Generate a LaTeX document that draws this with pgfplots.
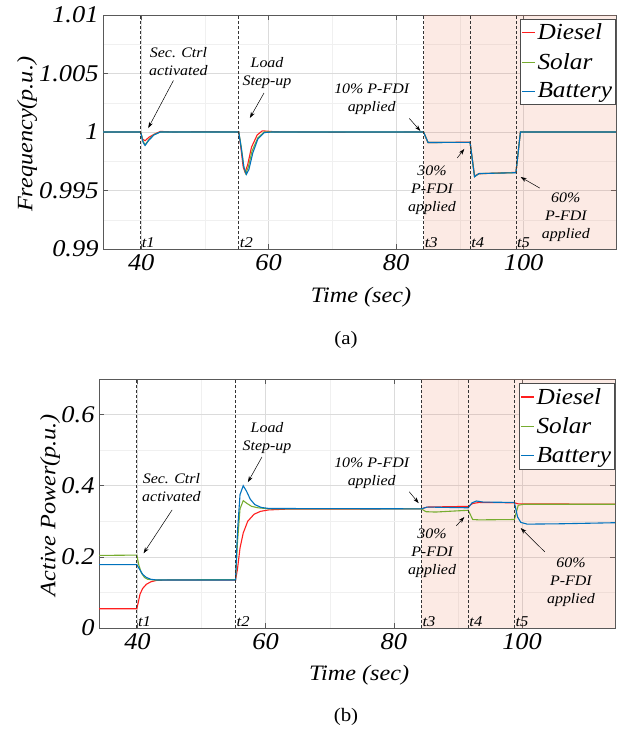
\documentclass[border=0pt]{standalone}
\usepackage{fontspec}
\setmainfont{Liberation Serif}[FakeStretch=1.1]
\usepackage{pgfplots}
\pgfplotsset{compat=1.18}
\usetikzlibrary{arrows.meta}
\definecolor{cDiesel}{RGB}{255,30,30}
\definecolor{cSolar}{RGB}{119,172,48}
\definecolor{cBattery}{RGB}{0,114,189}
\definecolor{cShadeBase}{RGB}{235,125,90}
\pgfplotsset{mystyle/.style={
  scale only axis,
  xmin=34, xmax=114.5,
  xtick={40,60,80,100}, xticklabels={40,60,80,100},
  minor x tick num=1,
  grid=both, major grid style={black!14, line width=0.5pt},
  minor grid style={black!6, line width=0.4pt},
  axis line style={black!65, line width=0.6pt},
  tick align=inside, major tick length=5pt, minor tick length=0pt,
  tick style={black!65, line width=0.6pt},
  /pgf/number format/assume math mode=true,
  xticklabel style={font=\fontsize{24}{26}\selectfont\itshape, yshift=-2pt},
  yticklabel style={font=\fontsize{24}{26}\selectfont\itshape, xshift=-1pt},
  label style={font=\fontsize{22}{26}\selectfont\itshape},
  legend style={anchor=north east, draw=black!70, fill=white,
    font=\fontsize{23}{27}\selectfont\itshape, inner xsep=1pt, inner ysep=3pt,
    outer sep=0pt, row sep=8pt, legend cell align=left},
  legend image code/.code={\draw[##1] (0pt,0pt) -- (13pt,0pt);},
}}
\tikzset{
  ann/.style={font=\fontsize{14.5}{18}\selectfont\itshape, align=center, inner sep=0pt},
  arr/.style={-{Stealth[length=6pt,width=4pt]}, black, line width=0.5pt},
  tl/.style={font=\fontsize{15}{18}\selectfont\itshape, anchor=south west, inner sep=1pt},
  vl/.style={black!80, line width=0.65pt, dash pattern=on 3pt off 2pt},
  dl/.style={line width=1.1pt},
}
\begin{document}
\begin{tikzpicture}
\useasboundingbox (0,0) rectangle (625pt,-730pt);
% ---------------- (a) frequency ----------------
\begin{axis}[mystyle, at={(103pt,-249pt)}, anchor=south west,
  width=513pt, height=234pt,
  ymin=0.99, ymax=1.01,
  ytick={0.99,0.995,1,1.005,1.01}, yticklabels={0.99,0.995,1,1.005,1.01},
  minor y tick num=1,
  xlabel={Time (sec)}, ylabel={Frequency(p.u.)},
  xlabel style={at={(axis description cs:0.503,-0.205)}, anchor=center},
  ylabel style={at={(axis description cs:-0.148,0.49)}, anchor=center},
  legend style={at={(rel axis cs:0.998,0.983)}},
]
\addplot[draw=none, fill=cShadeBase, fill opacity=0.16, forget plot] coordinates {(84.3,0.99) (84.3,1.01) (114.5,1.01) (114.5,0.99)} -- cycle;
\addplot[cDiesel, dl] coordinates {(34,1) (39.9,1) (40.2,0.9994) (40.6,0.99925) (41.2,0.99955) (42,0.9998) (43,1.00005) (45,1.0) (50,1.00003) (55.3,1.0) (55.6,0.9988) (56.0,0.9970) (56.3,0.99655) (56.7,0.9972) (57.3,0.9987) (58.2,0.99975) (59,1.0001) (61,1.00002) (70,0.99998) (84.3,1.0) (85.0,0.9991) (91.6,0.99913) (92.3,0.99625) (93,0.99643) (98.8,0.99655) (99.5,1.0) (114.5,1.0)};
\addlegendentry{Diesel}
\addplot[cSolar, dl] coordinates {(34,1) (39.9,1) (40.3,0.9992) (40.6,0.9989) (41.2,0.99935) (42,0.99977) (43,1.0) (55.3,1.0) (55.7,0.9987) (56.1,0.9970) (56.4,0.99645) (56.8,0.9970) (57.4,0.9984) (58.3,0.9995) (59.3,1.0) (84.3,1.0) (85.0,0.9991) (91.6,0.99912) (92.3,0.9962) (93,0.99644) (98.8,0.99653) (99.5,1.0) (114.5,1.0)};
\addlegendentry{Solar}
\addplot[cBattery, dl] coordinates {(34,1) (39.9,1) (40.3,0.9991) (40.6,0.99885) (41.2,0.9993) (42,0.99975) (43,1.0) (55.3,1.0) (55.7,0.9986) (56.1,0.9970) (56.5,0.99638) (56.9,0.9968) (57.5,0.9982) (58.3,0.9994) (59.3,0.99995) (60.5,1.0) (84.3,1.0) (85.0,0.9991) (91.6,0.99912) (92.3,0.99617) (93,0.99645) (98.8,0.99652) (99.5,1.0) (114.5,1.0)};
\addlegendentry{Battery}
\draw[vl] (axis cs:39.9,0.99) -- (axis cs:39.9,1.01);
\draw[vl] (axis cs:55.3,0.99) -- (axis cs:55.3,1.01);
\draw[vl] (axis cs:84.3,0.99) -- (axis cs:84.3,1.01);
\draw[vl] (axis cs:91.6,0.99) -- (axis cs:91.6,1.01);
\draw[vl] (axis cs:98.8,0.99) -- (axis cs:98.8,1.01);
\node[tl] at (axis cs:39.9,0.99) {t1};
\node[tl] at (axis cs:55.3,0.99) {t2};
\node[tl] at (axis cs:84.3,0.99) {t3};
\node[tl] at (axis cs:91.6,0.99) {t4};
\node[tl] at (axis cs:98.8,0.99) {t5};
\node[ann] at (axis cs:45.84,1.00598) {Sec. Ctrl\\activated};
\draw[arr] (axis cs:45.05,1.00440) -- (axis cs:41.1,1.00034);
\node[ann] at (axis cs:59.74,1.00504) {Load\\Step-up};
\draw[arr] (axis cs:59.26,1.00333) -- (axis cs:57.05,1.0012);
\node[ann] at (axis cs:76.16,1.00282) {10\% P-FDI\\applied};
\draw[arr] (axis cs:82.05,1.00117) -- (axis cs:83.8,1.00009);
\node[ann] at (axis cs:85.63,0.99504) {30\%\\P-FDI\\applied};
\draw[arr] (axis cs:89.58,0.99778) -- (axis cs:90.69,0.99855);
\node[ann] at (axis cs:106.63,0.99274) {60\%\\P-FDI\\applied};
\draw[arr] (axis cs:102.53,0.99521) -- (axis cs:99.53,0.99615);
\end{axis}
\node[font=\fontsize{19}{22}\selectfont] at (346pt,-340pt) {(a)};
% ---------------- (b) active power ----------------
\begin{axis}[mystyle, at={(99pt,-628pt)}, anchor=south west,
  width=516pt, height=249pt,
  ymin=0, ymax=0.7,
  ytick={0,0.2,0.4,0.6}, yticklabels={0,0.2,0.4,0.6},
  minor y tick num=1,
  xlabel={Time (sec)}, ylabel={Active Power(p.u.)},
  xlabel style={at={(axis description cs:0.504,-0.189)}, anchor=center},
  ylabel style={at={(axis description cs:-0.095,0.494)}, anchor=center},
  legend style={at={(rel axis cs:0.998,0.983)}},
]
\addplot[draw=none, fill=cShadeBase, fill opacity=0.16, forget plot] coordinates {(84.3,0) (84.3,0.7) (114.5,0.7) (114.5,0)} -- cycle;
\addplot[cDiesel, dl] coordinates {(34,0.054) (39.9,0.054) (40.1,0.07) (40.4,0.095) (40.8,0.111) (41.4,0.123) (42.1,0.130) (43,0.134) (45,0.135) (55.3,0.135) (55.6,0.165) (56.0,0.225) (56.5,0.267) (57.2,0.300) (58.2,0.320) (59.2,0.328) (60.5,0.332) (63,0.334) (84.3,0.335) (85.2,0.340) (91.6,0.342) (92.3,0.350) (93.3,0.353) (98.8,0.352) (99.4,0.349) (114.5,0.348)};
\addlegendentry{Diesel}
\addplot[cSolar, dl] coordinates {(34,0.204) (39.9,0.205) (40.2,0.178) (40.6,0.155) (41.1,0.142) (41.6,0.137) (42.6,0.135) (55.3,0.136) (55.6,0.24) (56.0,0.335) (56.5,0.358) (57.1,0.350) (57.8,0.342) (58.8,0.338) (60.5,0.335) (84.3,0.335) (85.0,0.327) (86.5,0.326) (91.6,0.331) (92.3,0.305) (93.3,0.304) (98.8,0.305) (99.4,0.345) (100.3,0.348) (114.5,0.348)};
\addlegendentry{Solar}
\addplot[cBattery, dl] coordinates {(34,0.178) (39.9,0.178) (40.3,0.166) (40.8,0.151) (41.4,0.142) (42.1,0.137) (43,0.135) (55.3,0.135) (55.6,0.27) (56.0,0.375) (56.5,0.400) (57.0,0.385) (57.6,0.362) (58.3,0.347) (59.3,0.339) (60.5,0.336) (84.3,0.335) (85.2,0.340) (91.6,0.338) (92.2,0.352) (92.9,0.357) (93.9,0.354) (98.8,0.353) (99.3,0.312) (99.8,0.297) (100.8,0.292) (106,0.293) (114.5,0.296)};
\addlegendentry{Battery}
\draw[vl] (axis cs:39.9,0) -- (axis cs:39.9,0.7);
\draw[vl] (axis cs:55.3,0) -- (axis cs:55.3,0.7);
\draw[vl] (axis cs:84.3,0) -- (axis cs:84.3,0.7);
\draw[vl] (axis cs:91.6,0) -- (axis cs:91.6,0.7);
\draw[vl] (axis cs:98.8,0) -- (axis cs:98.8,0.7);
\node[tl] at (axis cs:39.9,0) {t1};
\node[tl] at (axis cs:55.3,0) {t2};
\node[tl] at (axis cs:84.3,0) {t3};
\node[tl] at (axis cs:91.6,0) {t4};
\node[tl] at (axis cs:98.8,0) {t5};
\node[ann] at (axis cs:60.22,0.534) {Load\\Step-up};
\draw[arr] (axis cs:59.43,0.481) -- (axis cs:57.23,0.410);
\node[ann] at (axis cs:45.30,0.394) {Sec. Ctrl\\activated};
\draw[arr] (axis cs:45.41,0.332) -- (axis cs:40.95,0.210);
\node[ann] at (axis cs:76.54,0.436) {10\% P-FDI\\applied};
\draw[arr] (axis cs:82.4,0.383) -- (axis cs:83.87,0.351);
\node[ann] at (axis cs:85.96,0.211) {30\%\\P-FDI\\applied};
\draw[arr] (axis cs:89.73,0.287) -- (axis cs:90.99,0.312);
\node[ann] at (axis cs:107.63,0.129) {60\%\\P-FDI\\applied};
\draw[arr] (axis cs:103.55,0.214) -- (axis cs:99.78,0.281);
\end{axis}
\node[font=\fontsize{19}{22}\selectfont] at (346pt,-717pt) {(b)};
\end{tikzpicture}
\end{document}
